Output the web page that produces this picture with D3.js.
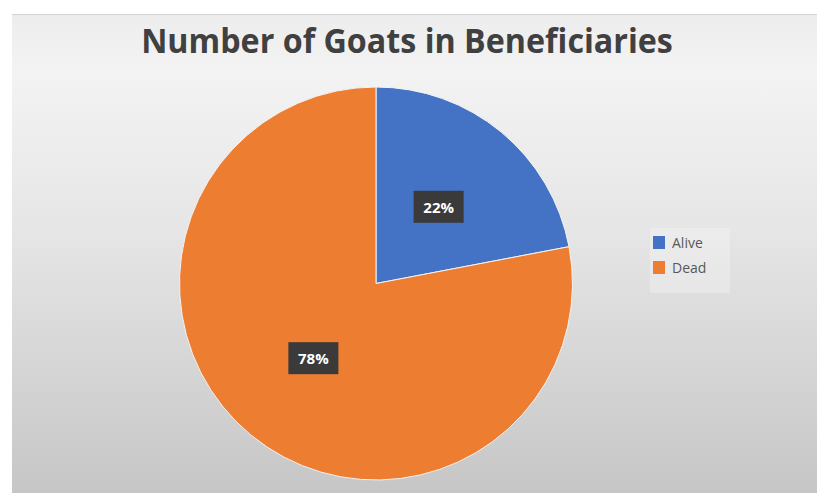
<!DOCTYPE html>
<html>
<head>
<meta charset="utf-8">
<script src="https://cdn.jsdelivr.net/npm/d3@7"></script>
<style>
  body { margin: 0; background: #ffffff; }
  svg { display: block; }
</style>
</head>
<body>
<div id="chart"></div>
<script>
// données
const categories = ["Alive", "Dead"];
const shares = [22, 78];
const colors = ["#4472c4", "#ed7d31"];
const chartTitle = "Number of Goats in Beneficiaries";

const width = 817;
const height = 493;

const svg = d3
  .select("#chart")
  .append("svg")
  .attr("width", width)
  .attr("height", height);

// fond dégradé de la zone du graphique
const defs = svg.append("defs");
const grad = defs
  .append("linearGradient")
  .attr("id", "bg")
  .attr("x1", 0)
  .attr("y1", 0)
  .attr("x2", 0)
  .attr("y2", 1);
grad.append("stop").attr("offset", "0%").attr("stop-color", "#ededed");
grad.append("stop").attr("offset", "12%").attr("stop-color", "#f3f3f3");
grad.append("stop").attr("offset", "45%").attr("stop-color", "#e6e6e6");
grad.append("stop").attr("offset", "100%").attr("stop-color", "#c6c6c6");

svg
  .append("rect")
  .attr("x", 12)
  .attr("y", 14)
  .attr("width", width - 12)
  .attr("height", height - 14)
  .attr("fill", "url(#bg)");

svg
  .append("line")
  .attr("x1", 12)
  .attr("x2", width)
  .attr("y1", 14.5)
  .attr("y2", 14.5)
  .attr("stroke", "#d2d2d2")
  .attr("stroke-width", 1);

// titre (police étroite : on resserre horizontalement)
const title = svg
  .append("text")
  .attr("text-anchor", "middle")
  .attr("font-family", "'Open Sans', sans-serif")
  .attr("font-weight", "bold")
  .attr("font-size", 34)
  .attr("fill", "#404040")
  .text(chartTitle);
const tw = title.node().getComputedTextLength();
const sx = 532 / tw;
title.attr("transform", "translate(407,53) scale(" + sx + ",1)");

// camembert
const cx = 376;
const cy = 283.5;
const radius = 196.5;

const pie = d3.pie().sort(null).value((d) => d);
const arc = d3.arc().innerRadius(0).outerRadius(radius);
const labelArc = d3
  .arc()
  .innerRadius(radius * 0.5)
  .outerRadius(radius * 0.5);

const color = d3.scaleOrdinal().domain(categories).range(colors);
const total = d3.sum(shares);
const arcs = pie(shares);

const g = svg.append("g").attr("transform", "translate(" + cx + "," + cy + ")");

g.selectAll("path")
  .data(arcs)
  .enter()
  .append("path")
  .attr("d", arc)
  .attr("fill", (d, i) => color(categories[i]))
  .attr("stroke", "#f4f4f4")
  .attr("stroke-width", 1);

// étiquettes de pourcentage
const labels = g
  .selectAll("g.label")
  .data(arcs)
  .enter()
  .append("g")
  .attr("class", "label")
  .attr("transform", (d) => "translate(" + labelArc.centroid(d) + ")");

labels
  .append("rect")
  .attr("x", -25)
  .attr("y", -17)
  .attr("width", 50)
  .attr("height", 32)
  .attr("fill", "#3a3a3a");

labels
  .append("text")
  .attr("text-anchor", "middle")
  .attr("dy", "0.35em")
  .attr("font-family", "'Open Sans', sans-serif")
  .attr("font-weight", "bold")
  .attr("font-size", 15)
  .attr("fill", "#ffffff")
  .text((d) => Math.round((d.data / total) * 100) + "%");

// légende
const legend = svg.append("g").attr("transform", "translate(650,228)");

legend
  .append("rect")
  .attr("width", 80)
  .attr("height", 65)
  .attr("fill", "#ffffff")
  .attr("opacity", 0.25);

const items = legend
  .selectAll("g.item")
  .data(categories)
  .enter()
  .append("g")
  .attr("class", "item")
  .attr("transform", (d, i) => "translate(3," + (8 + i * 25) + ")");

items
  .append("rect")
  .attr("width", 12)
  .attr("height", 13)
  .attr("fill", (d) => color(d));

items
  .append("text")
  .attr("x", 19)
  .attr("y", 7)
  .attr("dy", "0.35em")
  .attr("font-family", "'Open Sans', sans-serif")
  .attr("font-size", 14)
  .attr("fill", "#595959")
  .text((d) => d);
</script>
</body>
</html>
